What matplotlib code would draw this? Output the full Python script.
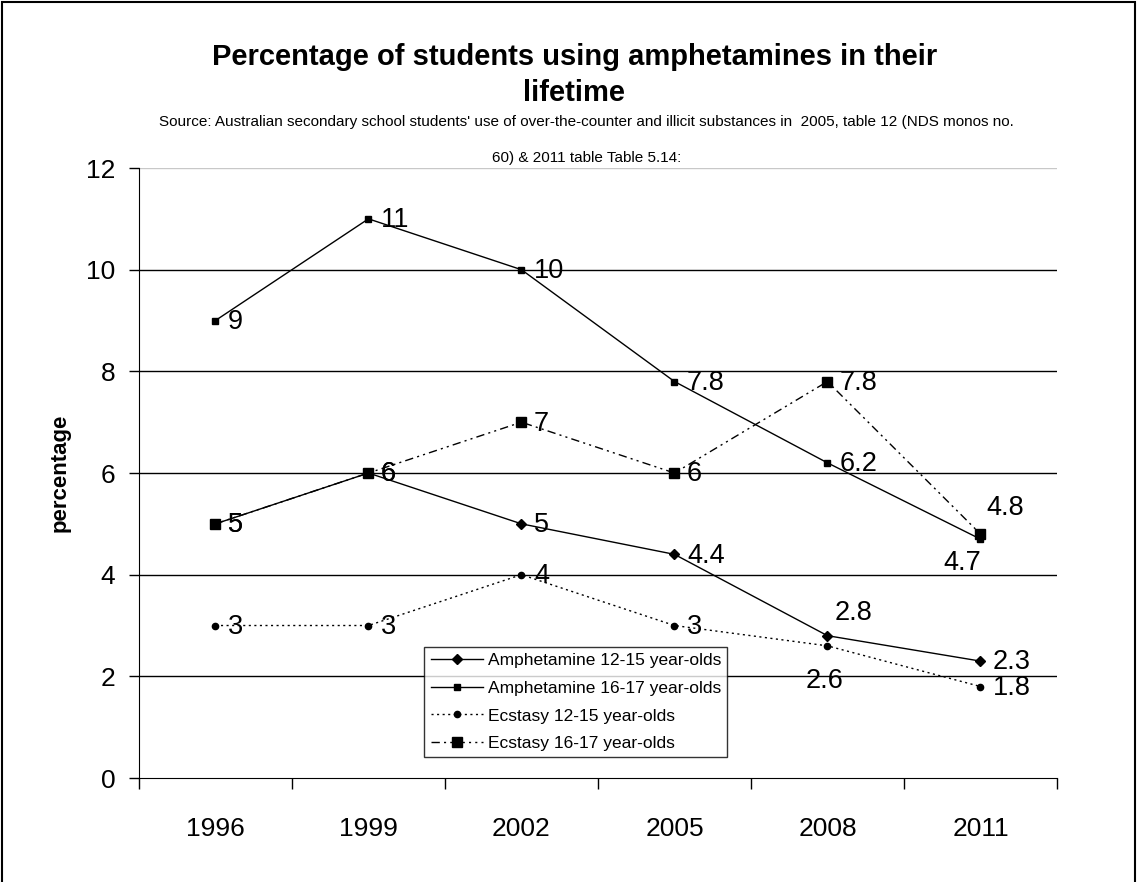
import matplotlib
matplotlib.use("Agg")
import matplotlib.pyplot as plt
from matplotlib.patches import Rectangle
from matplotlib.ticker import FixedLocator

plt.rcParams["font.family"] = ["Liberation Sans", "DejaVu Sans"]

years = ["1996", "1999", "2002", "2005", "2008", "2011"]
amph_12_15 = [5, 6, 5, 4.4, 2.8, 2.3]
amph_16_17 = [9, 11, 10, 7.8, 6.2, 4.7]
ecst_12_15 = [3, 3, 4, 3, 2.6, 1.8]
ecst_16_17 = [5, 6, 7, 6, 7.8, 4.8]

names = ["Amphetamine 12-15 year-olds", "Amphetamine 16-17 year-olds",
         "Ecstasy 12-15 year-olds", "Ecstasy 16-17 year-olds"]

# style per series: marker, size, linestyle
styles = [
    ("D", 5, "-"),
    ("s", 5, "-"),
    ("o", 4.5, (0, (1.5, 2.5))),
    ("s", 7.5, (0, (6, 3, 1.5, 3, 1.5, 3))),
]

# label offsets (points) where the default "to the right" is not used
special = {
    (1, 5): (-13, -17, "center"),
    (3, 5): (18, 19, "center"),
    (0, 4): (19, 16, "center"),
    (2, 4): (-2, -25, "center"),
}

fig = plt.figure(figsize=(11.37, 8.82), dpi=100)
ax = fig.add_axes([0.1222, 0.1179, 0.8074, 0.6916])

x = list(range(len(years)))
series = [amph_12_15, amph_16_17, ecst_12_15, ecst_16_17]
for k, (vals, name, (m, ms, ls)) in enumerate(zip(series, names, styles)):
    ax.plot(x, vals, color="black", lw=1, linestyle=ls, marker=m,
            markersize=ms, label=name, zorder=3)
    for i, v in enumerate(vals):
        dx, dy, ha = special.get((k, i), (9, -1, "left"))
        ax.annotate("{:g}".format(v), (i, v), xytext=(dx, dy),
                    textcoords="offset points", ha=ha, va="center",
                    fontsize=19.5, zorder=4)

ax.set_xlim(-0.5, 5.5)
ax.set_ylim(0, 12)
ax.set_yticks(range(0, 13, 2))
ax.set_xticks(x)
ax.set_xticklabels(years)
ax.xaxis.set_minor_locator(FixedLocator([i - 0.5 for i in range(7)]))
ax.tick_params(axis="x", which="major", length=0, pad=28, labelsize=19)
ax.tick_params(axis="x", which="minor", length=8, width=1, direction="out")
ax.tick_params(axis="y", length=7, width=1, direction="out", pad=10, labelsize=19)

for gy in range(2, 12, 2):
    ax.axhline(gy, color="black", lw=1, zorder=1)
ax.axhline(12, color="#c8c8c8", lw=1, zorder=1)
ax.spines["top"].set_visible(False)
ax.spines["right"].set_visible(False)

ax.set_ylabel("percentage", fontsize=16, fontweight="bold", labelpad=11)

leg = ax.legend(loc="lower left", bbox_to_anchor=(0.311, 0.034),
                fontsize=12.5, frameon=True, fancybox=False, handlelength=3,
                handletextpad=0.3, labelspacing=0.72, borderpad=0.35,
                borderaxespad=0)
leg.get_frame().set_edgecolor("black")
leg.get_frame().set_linewidth(1)

fig.text(0.505, 0.935, "Percentage of students using amphetamines in their",
         ha="center", va="center", fontsize=21, fontweight="bold")
fig.text(0.505, 0.895, "lifetime", ha="center", va="center",
         fontsize=21, fontweight="bold")
fig.text(0.516, 0.862,
         "Source: Australian secondary school students' use of over-the-counter "
         "and illicit substances in  2005, table 12 (NDS monos no.",
         ha="center", va="center", fontsize=11)
fig.text(0.516, 0.821, "60) & 2011 table Table 5.14:", ha="center",
         va="center", fontsize=11)

fig.patches.append(Rectangle((0.002, -0.01), 0.996, 1.008, fill=False,
                             lw=1.5, edgecolor="black",
                             transform=fig.transFigure))

fig.savefig("out.png", dpi=100)
